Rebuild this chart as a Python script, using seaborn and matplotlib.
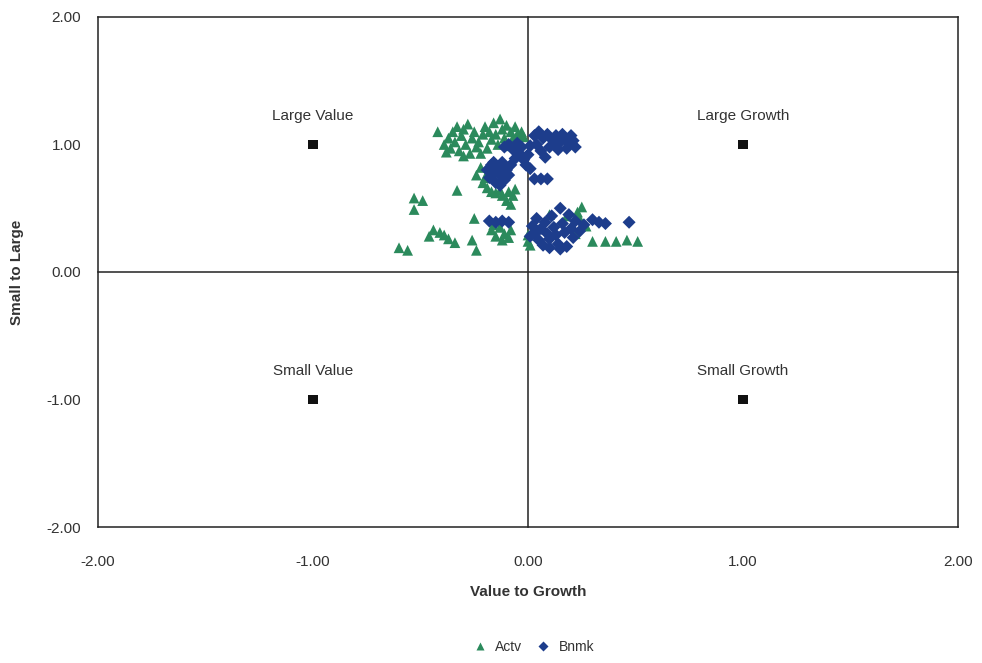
import matplotlib
matplotlib.use("Agg")
import matplotlib.pyplot as plt
import seaborn as sns
import pandas as pd

# Style-box exposures: active manager (Actv) and benchmark (Bnmk)
actv_x = [-0.42,
          -0.39, -0.38, -0.37, -0.36, -0.35, -0.34, -0.33, -0.32, -0.31, -0.30,
          -0.29, -0.28, -0.27, -0.26, -0.25, -0.24, -0.23,
          -0.21, -0.20, -0.19, -0.18, -0.17, -0.16, -0.15, -0.14, -0.13, -0.12,
          -0.11, -0.10, -0.09, -0.08, -0.07, -0.06, -0.05, -0.04, -0.03, -0.02,
          -0.22, -0.30,
          -0.24, -0.22, -0.21, -0.19, -0.17, -0.15, -0.13, -0.20, -0.12, -0.10,
          -0.08, -0.07, -0.06, -0.09,
          -0.33, -0.49, -0.53, -0.53, -0.25,
          -0.17, -0.15, -0.13, -0.11, -0.09, -0.08, -0.12, -0.16,
          -0.46, -0.44, -0.41, -0.39, -0.37, -0.34, -0.26, -0.24, -0.60, -0.56,
          0.00, 0.00, 0.01, 0.02,
          0.10, 0.23, 0.25, 0.24, 0.18, 0.27, 0.22, 0.30, 0.36, 0.41, 0.46, 0.51]
actv_y = [1.10,
          1.00, 0.94, 1.05, 0.97, 1.10, 1.02, 1.14, 0.95, 1.07, 1.12,
          1.00, 1.16, 0.93, 1.05, 1.10, 0.98, 1.02,
          1.08, 1.14, 0.97, 1.10, 1.04, 1.17, 1.08, 1.00, 1.20, 1.12,
          1.05, 1.15, 0.99, 1.10, 1.05, 1.14, 1.08, 1.02, 1.10, 1.06,
          0.93, 0.91,
          0.76, 0.82, 0.70, 0.66, 0.63, 0.62, 0.64, 0.74, 0.60, 0.56,
          0.53, 0.60, 0.65, 0.63,
          0.64, 0.56, 0.58, 0.49, 0.42,
          0.33, 0.28, 0.35, 0.30, 0.27, 0.33, 0.25, 0.37,
          0.28, 0.33, 0.31, 0.29, 0.26, 0.23, 0.25, 0.17, 0.19, 0.17,
          0.24, 0.29, 0.21, 0.32,
          0.45, 0.47, 0.51, 0.42, 0.44, 0.36, 0.30, 0.24, 0.24, 0.24, 0.25, 0.24]

bnmk_x = [-0.11, -0.09, -0.07, -0.05, -0.04, -0.03, -0.02, -0.01, 0.00, 0.01,
          -0.06, 0.01,
          0.03, 0.05, 0.07, 0.09, 0.11, 0.13, 0.15, 0.17, 0.19, 0.21,
          0.22, 0.18, 0.14, 0.10, 0.06, 0.08, 0.04, 0.12, 0.16, 0.20,
          -0.19, -0.18, -0.17, -0.16, -0.15, -0.14, -0.13, -0.12, -0.11, -0.10,
          -0.09, -0.08, -0.13, -0.16,
          0.03, 0.06, 0.09,
          -0.18, -0.15, -0.12, -0.09,
          0.02, 0.03, 0.04, 0.05, 0.06, 0.07, 0.08, 0.09, 0.10, 0.11,
          0.12, 0.13, 0.14, 0.15, 0.16, 0.17, 0.18, 0.19, 0.20, 0.21,
          0.22, 0.24, 0.26, 0.10, 0.15, 0.01,
          0.30, 0.33, 0.36, 0.47]
bnmk_y = [0.98, 1.00, 0.96, 1.01, 0.93, 0.98, 0.88, 0.84, 0.92, 0.81,
          0.89, 0.99,
          1.07, 1.10, 1.05, 1.08, 1.04, 1.07, 1.02, 1.05, 1.01, 1.03,
          0.98, 0.97, 0.96, 0.98, 0.95, 0.90, 1.00, 1.00, 1.08, 1.07,
          0.80, 0.74, 0.84, 0.78, 0.70, 0.82, 0.76, 0.86, 0.72, 0.80,
          0.76, 0.84, 0.68, 0.86,
          0.73, 0.73, 0.73,
          0.40, 0.39, 0.40, 0.39,
          0.36, 0.30, 0.42, 0.25, 0.34, 0.21, 0.39, 0.30, 0.26, 0.44,
          0.35, 0.29, 0.22, 0.50, 0.38, 0.31, 0.20, 0.45, 0.34, 0.27,
          0.40, 0.32, 0.37, 0.19, 0.18, 0.28,
          0.41, 0.39, 0.38, 0.39]

# Style-box corners
corner_x = [-1.0, 1.0, -1.0, 1.0]
corner_y = [1.0, 1.0, -1.0, -1.0]
corner_labels = ["Large Value", "Large Growth", "Small Value", "Small Growth"]

tick_vals = [-2.0, -1.0, 0.0, 1.0, 2.0]
tick_labels = ["-2.00", "-1.00", "0.00", "1.00", "2.00"]

df = pd.DataFrame({
    "x": actv_x + bnmk_x,
    "y": actv_y + bnmk_y,
    "series": ["Actv"] * len(actv_x) + ["Bnmk"] * len(bnmk_x),
})
corners = pd.DataFrame({"x": corner_x, "y": corner_y, "label": corner_labels})

sns.set_style("white")
plt.rcParams["font.family"] = ["Liberation Sans", "DejaVu Sans"]
text_color = "#333333"

fig = plt.figure(figsize=(9.82, 6.63), dpi=100)
ax = fig.add_axes([0.0998, 0.2051, 0.8758, 0.7693])

palette = {"Actv": "#2b8a5c", "Bnmk": "#1d3d8c"}
sns.scatterplot(data=df, x="x", y="y", hue="series", style="series",
                size="series", sizes={"Actv": 60, "Bnmk": 44},
                markers={"Actv": "^", "Bnmk": "D"}, palette=palette,
                edgecolor="none", ax=ax, zorder=3)
sns.scatterplot(data=corners, x="x", y="y", marker="s", color="#111111",
                s=50, edgecolor="none", ax=ax, legend=False, zorder=3)
for _, r in corners.iterrows():
    ax.text(r["x"], r["y"] + 0.17, r["label"], ha="center", va="bottom",
            fontsize=11, color=text_color)

ax.set_xlim(-2, 2)
ax.set_ylim(-2, 2)

# Crosshair axes through the origin with small tick marks
ax.spines["left"].set_position("zero")
ax.spines["bottom"].set_position("zero")
for sp in ax.spines.values():
    sp.set_color("#222222")
    sp.set_linewidth(1.1)
ax.set_xticks(tick_vals)
ax.set_yticks(tick_vals)
ax.tick_params(axis="both", direction="out", length=4, width=1,
               colors="#222222", labelbottom=False, labelleft=False)
ax.set_xlabel("")
ax.set_ylabel("")

# Tick labels along the outer frame
secx = ax.secondary_xaxis("bottom")
secx.set_xticks(tick_vals)
secx.set_xticklabels(tick_labels)
secx.tick_params(length=0, pad=20, labelsize=11, labelcolor=text_color)
secx.spines["bottom"].set_color("#222222")
secx.spines["bottom"].set_linewidth(1.1)
secx.set_xlabel("Value to Growth", fontsize=11, fontweight="bold",
                color=text_color, labelpad=12)

secy = ax.secondary_yaxis("left")
secy.set_yticks(tick_vals)
secy.set_yticklabels(tick_labels)
secy.tick_params(length=0, pad=12, labelsize=11, labelcolor=text_color)
secy.spines["left"].set_color("#222222")
secy.spines["left"].set_linewidth(1.1)
secy.set_ylabel("Small to Large", fontsize=11, fontweight="bold",
                color=text_color, labelpad=16)

sns.move_legend(ax, "center", bbox_to_anchor=(0.54, 0.024),
                bbox_transform=fig.transFigure, ncol=2, frameon=False,
                title=None, fontsize=10, handletextpad=0.1,
                columnspacing=0.5, markerscale=0.7)
for t in ax.get_legend().get_texts():
    t.set_color(text_color)

fig.savefig("out.png", dpi=100)
